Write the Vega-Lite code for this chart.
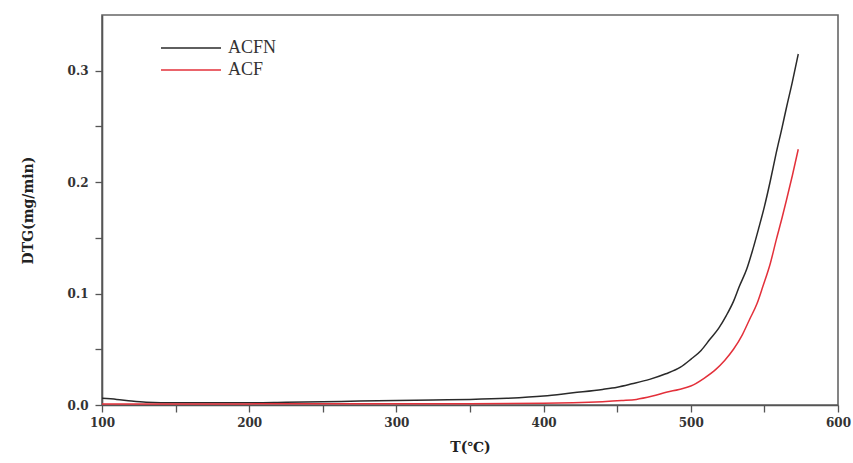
{
  "$schema": "https://vega.github.io/schema/vega-lite/v6.json",
  "autosize": {"type": "none"},
  "width": 736,
  "height": 390,
  "padding": {"left": 102, "top": 15, "right": 15, "bottom": 58},
  "background": "white",
  "config": {
    "view": {"stroke": "#666", "strokeWidth": 1.6},
    "font": "DejaVu Serif",
    "axis": {
      "grid": false,
      "domainColor": "#555",
      "domainWidth": 1.6,
      "tickColor": "#555",
      "tickWidth": 1.3,
      "tickSize": 7,
      "labelFont": "DejaVu Serif",
      "labelFontWeight": "bold",
      "labelFontSize": 12,
      "labelColor": "#333",
      "titleFont": "DejaVu Serif",
      "titleFontWeight": "bold",
      "titleFontSize": 14,
      "titleColor": "#222"
    }
  },
  "data": {
    "values": [
      {"T": 100, "v": 0.006, "s": "ACFN"},
      {"T": 110, "v": 0.005, "s": "ACFN"},
      {"T": 120, "v": 0.0035, "s": "ACFN"},
      {"T": 130, "v": 0.0025, "s": "ACFN"},
      {"T": 150, "v": 0.002, "s": "ACFN"},
      {"T": 175, "v": 0.002, "s": "ACFN"},
      {"T": 200, "v": 0.002, "s": "ACFN"},
      {"T": 225, "v": 0.0025, "s": "ACFN"},
      {"T": 250, "v": 0.003, "s": "ACFN"},
      {"T": 275, "v": 0.0035, "s": "ACFN"},
      {"T": 300, "v": 0.004, "s": "ACFN"},
      {"T": 325, "v": 0.0045, "s": "ACFN"},
      {"T": 350, "v": 0.005, "s": "ACFN"},
      {"T": 375, "v": 0.006, "s": "ACFN"},
      {"T": 400, "v": 0.008, "s": "ACFN"},
      {"T": 420, "v": 0.011, "s": "ACFN"},
      {"T": 440, "v": 0.014, "s": "ACFN"},
      {"T": 450, "v": 0.016, "s": "ACFN"},
      {"T": 460, "v": 0.019, "s": "ACFN"},
      {"T": 472, "v": 0.023, "s": "ACFN"},
      {"T": 483, "v": 0.028, "s": "ACFN"},
      {"T": 493, "v": 0.034, "s": "ACFN"},
      {"T": 500, "v": 0.041, "s": "ACFN"},
      {"T": 507, "v": 0.049, "s": "ACFN"},
      {"T": 513, "v": 0.059, "s": "ACFN"},
      {"T": 519, "v": 0.069, "s": "ACFN"},
      {"T": 524, "v": 0.080, "s": "ACFN"},
      {"T": 529, "v": 0.093, "s": "ACFN"},
      {"T": 533, "v": 0.1065, "s": "ACFN"},
      {"T": 538, "v": 0.122, "s": "ACFN"},
      {"T": 542, "v": 0.139, "s": "ACFN"},
      {"T": 546, "v": 0.158, "s": "ACFN"},
      {"T": 550, "v": 0.178, "s": "ACFN"},
      {"T": 554, "v": 0.201, "s": "ACFN"},
      {"T": 558, "v": 0.226, "s": "ACFN"},
      {"T": 562, "v": 0.249, "s": "ACFN"},
      {"T": 565, "v": 0.267, "s": "ACFN"},
      {"T": 569, "v": 0.29, "s": "ACFN"},
      {"T": 573, "v": 0.315, "s": "ACFN"},
      {"T": 100, "v": 0.001, "s": "ACF"},
      {"T": 150, "v": 0.001, "s": "ACF"},
      {"T": 200, "v": 0.001, "s": "ACF"},
      {"T": 250, "v": 0.0012, "s": "ACF"},
      {"T": 300, "v": 0.0012, "s": "ACF"},
      {"T": 350, "v": 0.0012, "s": "ACF"},
      {"T": 400, "v": 0.0015, "s": "ACF"},
      {"T": 420, "v": 0.002, "s": "ACF"},
      {"T": 440, "v": 0.003, "s": "ACF"},
      {"T": 453, "v": 0.004, "s": "ACF"},
      {"T": 463, "v": 0.005, "s": "ACF"},
      {"T": 474, "v": 0.008, "s": "ACF"},
      {"T": 484, "v": 0.0116, "s": "ACF"},
      {"T": 492, "v": 0.014, "s": "ACF"},
      {"T": 500, "v": 0.017, "s": "ACF"},
      {"T": 509, "v": 0.024, "s": "ACF"},
      {"T": 517, "v": 0.032, "s": "ACF"},
      {"T": 523, "v": 0.040, "s": "ACF"},
      {"T": 529, "v": 0.050, "s": "ACF"},
      {"T": 535, "v": 0.063, "s": "ACF"},
      {"T": 540, "v": 0.077, "s": "ACF"},
      {"T": 545, "v": 0.091, "s": "ACF"},
      {"T": 549, "v": 0.1065, "s": "ACF"},
      {"T": 554, "v": 0.127, "s": "ACF"},
      {"T": 558, "v": 0.148, "s": "ACF"},
      {"T": 562, "v": 0.168, "s": "ACF"},
      {"T": 565, "v": 0.184, "s": "ACF"},
      {"T": 569, "v": 0.206, "s": "ACF"},
      {"T": 573, "v": 0.2295, "s": "ACF"}
    ]
  },
  "mark": {"type": "line", "strokeWidth": 1.5, "interpolate": "monotone"},
  "encoding": {
    "x": {
      "field": "T", "type": "quantitative",
      "scale": {"domain": [100, 600], "nice": false, "zero": false},
      "axis": {
        "title": "T(℃)",
        "values": [100, 150, 200, 250, 300, 350, 400, 450, 500, 550, 600],
        "labelExpr": "datum.value % 100 == 0 ? datum.label : ''",
        "format": "d",
        "labelPadding": 5,
        "titlePadding": 12,
        "labelFlush": false
      }
    },
    "y": {
      "field": "v", "type": "quantitative",
      "scale": {"domain": [0, 0.35], "nice": false},
      "axis": {
        "title": "DTG(mg/min)",
        "values": [0, 0.05, 0.1, 0.15, 0.2, 0.25, 0.3],
        "format": ".1f",
        "labelExpr": "abs(datum.value * 10 - round(datum.value * 10)) < 0.01 ? datum.label : ''",
        "labelPadding": 7,
        "titlePadding": 32,
        "labelFlush": false
      }
    },
    "color": {
      "field": "s", "type": "nominal",
      "scale": {"domain": ["ACFN", "ACF"], "range": ["#2a2a2a", "#e3303a"]},
      "legend": {
        "title": null,
        "orient": "none",
        "legendX": 78,
        "legendY": 22,
        "padding": 0,
        "symbolType": "M-3,0H3",
        "symbolSize": 400,
        "symbolStrokeWidth": 1.5,
        "symbolFillColor": "transparent",
        "labelFont": "Liberation Serif",
        "labelFontSize": 18,
        "labelColor": "#333",
        "labelOffset": 26,
        "rowPadding": 2
      }
    }
  }
}
